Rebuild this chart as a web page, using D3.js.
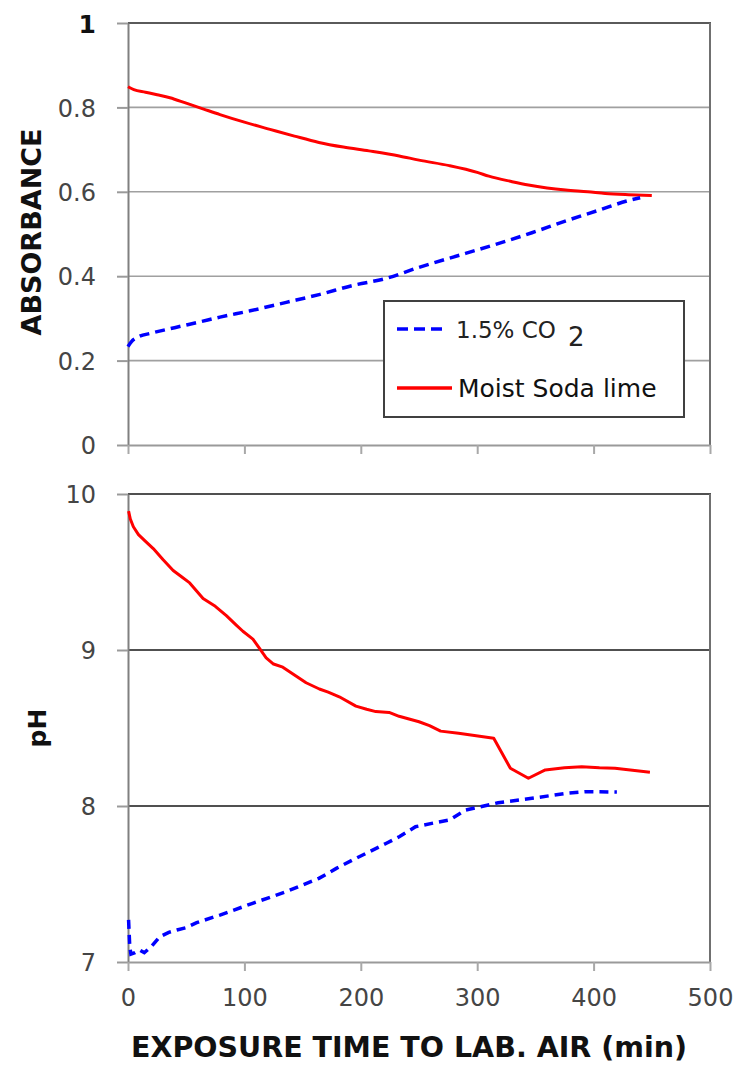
<!DOCTYPE html>
<html>
<head>
<meta charset="utf-8">
<script src="https://cdn.jsdelivr.net/npm/d3@7"></script>
<style>
  html, body { margin: 0; padding: 0; background: #fff; }
  svg { display: block; }
  text { font-family: "DejaVu Sans", sans-serif; }
</style>
</head>
<body>
<svg id="chart" width="737" height="1070"></svg>
<script>
// Shared time axis (minutes)
const timeTicks = [0, 100, 200, 300, 400, 500];
const absTicks = [0, 0.2, 0.4, 0.6, 0.8, 1];
const phTicks = [7, 8, 9, 10];

const seriesNames = ["1.5% CO", "Moist Soda lime"];

// Absorbance vs exposure time
const absCO2Time  = [0, 3, 8, 20, 40, 62, 79, 105, 136, 165, 193, 222, 250, 290, 320, 347, 375, 404, 431, 440];
const absCO2Value = [0.233, 0.245, 0.255, 0.265, 0.278, 0.292, 0.303, 0.318, 0.338, 0.357, 0.378, 0.395, 0.421, 0.454, 0.479, 0.503, 0.530, 0.556, 0.580, 0.586];

const absSodaTime  = [0, 5, 15, 25, 36, 50, 65, 79, 100, 122, 143, 164, 185, 207, 233, 250, 276, 300, 310, 330, 344, 360, 376, 395, 410, 430, 450];
const absSodaValue = [0.849, 0.842, 0.836, 0.830, 0.823, 0.810, 0.796, 0.783, 0.765, 0.748, 0.732, 0.717, 0.706, 0.697, 0.685, 0.675, 0.662, 0.646, 0.637, 0.624, 0.616, 0.609, 0.604, 0.600, 0.596, 0.593, 0.591];

// pH vs exposure time
const phCO2Time  = [0.5, 1.5, 2.5, 6, 10, 14, 20, 27, 35, 42, 50, 59, 79, 107, 136, 164, 179, 193, 222, 233, 247, 262, 276, 290, 318, 347, 376, 393, 420];
const phCO2Value = [7.27, 7.10, 7.05, 7.06, 7.077, 7.06, 7.098, 7.16, 7.19, 7.205, 7.22, 7.252, 7.301, 7.376, 7.451, 7.536, 7.60, 7.654, 7.761, 7.803, 7.867, 7.89, 7.91, 7.974, 8.021, 8.049, 8.081, 8.092, 8.09];

const phSodaTime  = [0.5, 2, 4.6, 9, 14.6, 21.7, 30, 38.8, 46, 53, 64.5, 75, 84.5, 93, 98.7, 107.3, 113, 118.7, 125, 133, 143, 153, 164.4, 172, 181.5, 195.8, 205, 212.9, 224.3, 232.9, 250, 259, 268.6, 284, 314.2, 328.5, 344, 358.5, 375, 389.8, 405, 418.4, 448.4];
const phSodaValue = [9.89, 9.84, 9.79, 9.74, 9.70, 9.65, 9.58, 9.51, 9.47, 9.43, 9.33, 9.28, 9.22, 9.16, 9.12, 9.07, 9.01, 8.95, 8.91, 8.89, 8.84, 8.79, 8.75, 8.73, 8.70, 8.64, 8.62, 8.605, 8.60, 8.575, 8.54, 8.515, 8.48, 8.466, 8.434, 8.242, 8.178, 8.231, 8.245, 8.252, 8.245, 8.242, 8.216];

const svg = d3.select("#chart");

const left = 128, right = 710;
const x = d3.scaleLinear().domain([0, 500]).range([left, right]);
const yAbs = d3.scaleLinear().domain([0, 1]).range([445, 23]);
const yPh = d3.scaleLinear().domain([7, 10]).range([962, 494]);

const blue = "#0000ff", red = "#ff0000";

function zip(t, v) { return t.map((d, i) => [d, v[i]]); }

function panel(y, ticks, gridColor, gridWidth, frameColor, fmt, showXLabels) {
  const g = svg.append("g");
  const [y0, y1] = y.range();
  // horizontal gridlines
  g.selectAll("line.grid").data(ticks.slice(1, -1)).join("line")
    .attr("x1", left).attr("x2", right)
    .attr("y1", d => y(d)).attr("y2", d => y(d))
    .attr("stroke", gridColor).attr("stroke-width", gridWidth);
  // frame: top and right
  g.append("line").attr("x1", left).attr("x2", right + 1).attr("y1", y1).attr("y2", y1)
    .attr("stroke", frameColor).attr("stroke-width", 2);
  g.append("line").attr("x1", right).attr("x2", right).attr("y1", y1).attr("y2", y0)
    .attr("stroke", "#707070").attr("stroke-width", 2);

  // y axis
  const ya = g.append("g").attr("transform", `translate(${left},0)`)
    .call(d3.axisLeft(y).tickValues(ticks).tickFormat(fmt).tickSize(11).tickPadding(21).tickSizeOuter(0));
  ya.select(".domain").attr("stroke", "#808080").attr("stroke-width", 2);
  ya.selectAll(".tick line").attr("stroke", "#9a9a9a").attr("stroke-width", 2);
  ya.selectAll(".tick text").attr("font-size", 24).attr("fill", "#454545")
    .attr("font-family", "DejaVu Sans").attr("dy", "0.36em");

  // x axis
  const xa = g.append("g").attr("transform", `translate(0,${y0})`)
    .call(d3.axisBottom(x).tickValues(timeTicks).tickSize(9).tickPadding(18).tickSizeOuter(0)
      .tickFormat(showXLabels ? d3.format("d") : () => ""));
  xa.select(".domain").attr("stroke", "#9a9a9a").attr("stroke-width", 2);
  xa.selectAll(".tick line").attr("stroke", "#a8a8a8").attr("stroke-width", 2);
  xa.selectAll(".tick text").attr("font-size", 24).attr("fill", "#454545")
    .attr("font-family", "DejaVu Sans");
  return { g, ya, xa };
}

const absPanel = panel(yAbs, absTicks, "#a0a0a0", 1.6, "#5a5a5a", d => d3.format("")(d), false);
absPanel.ya.selectAll(".tick text").filter(d => d === 1)
  .attr("fill", "#111").attr("font-weight", "bold").attr("font-size", 25);

const phPanel = panel(yPh, phTicks, "#505050", 2, "#505050", d3.format("d"), true);

// series
const lineAbs = d3.line().curve(d3.curveMonotoneX).x(d => x(d[0])).y(d => yAbs(d[1]));
const linePh = d3.line().x(d => x(d[0])).y(d => yPh(d[1]));

svg.append("path").datum(zip(absSodaTime, absSodaValue)).attr("d", lineAbs)
  .attr("fill", "none").attr("stroke", red).attr("stroke-width", 3).attr("stroke-linejoin", "round");
svg.append("path").datum(zip(absCO2Time, absCO2Value)).attr("d", lineAbs)
  .attr("fill", "none").attr("stroke", blue).attr("stroke-width", 3.5).attr("stroke-dasharray", "10,6");

svg.append("path").datum(zip(phSodaTime, phSodaValue)).attr("d", linePh)
  .attr("fill", "none").attr("stroke", red).attr("stroke-width", 3).attr("stroke-linejoin", "round");
svg.append("path").datum(zip(phCO2Time, phCO2Value)).attr("d", linePh)
  .attr("fill", "none").attr("stroke", blue).attr("stroke-width", 3.5).attr("stroke-dasharray", "9,6");

// axis titles
svg.append("text").attr("transform", "translate(41,232) rotate(-90)")
  .attr("text-anchor", "middle").attr("font-size", 27).attr("font-weight", "bold").attr("fill", "#111")
  .text("ABSORBANCE");
svg.append("text").attr("transform", "translate(46,728) rotate(-90)")
  .attr("text-anchor", "middle").attr("font-size", 25).attr("font-weight", "bold").attr("fill", "#111")
  .text("pH");
svg.append("text").attr("x", 409).attr("y", 1057)
  .attr("text-anchor", "middle").attr("font-size", 28.5).attr("font-weight", "bold").attr("fill", "#111")
  .text("EXPOSURE TIME TO LAB. AIR (min)");

// legend
const lg = svg.append("g");
lg.append("rect").attr("x", 384).attr("y", 301).attr("width", 300).attr("height", 116)
  .attr("fill", "#fff").attr("stroke", "#404040").attr("stroke-width", 2);
lg.append("line").attr("x1", 397).attr("x2", 447).attr("y1", 329).attr("y2", 329)
  .attr("stroke", blue).attr("stroke-width", 3.5).attr("stroke-dasharray", "11,6");
const t1 = lg.append("text").attr("x", 456).attr("y", 338).attr("font-size", 23).attr("fill", "#222");
t1.append("tspan").text(seriesNames[0]);
t1.append("tspan").attr("dx", 12).attr("dy", 8).attr("font-size", 26).text("2");
lg.append("line").attr("x1", 397).attr("x2", 452).attr("y1", 388).attr("y2", 388)
  .attr("stroke", red).attr("stroke-width", 3.5);
lg.append("text").attr("x", 458).attr("y", 397).attr("font-size", 25).attr("fill", "#111")
  .text(seriesNames[1]);
</script>
</body>
</html>
